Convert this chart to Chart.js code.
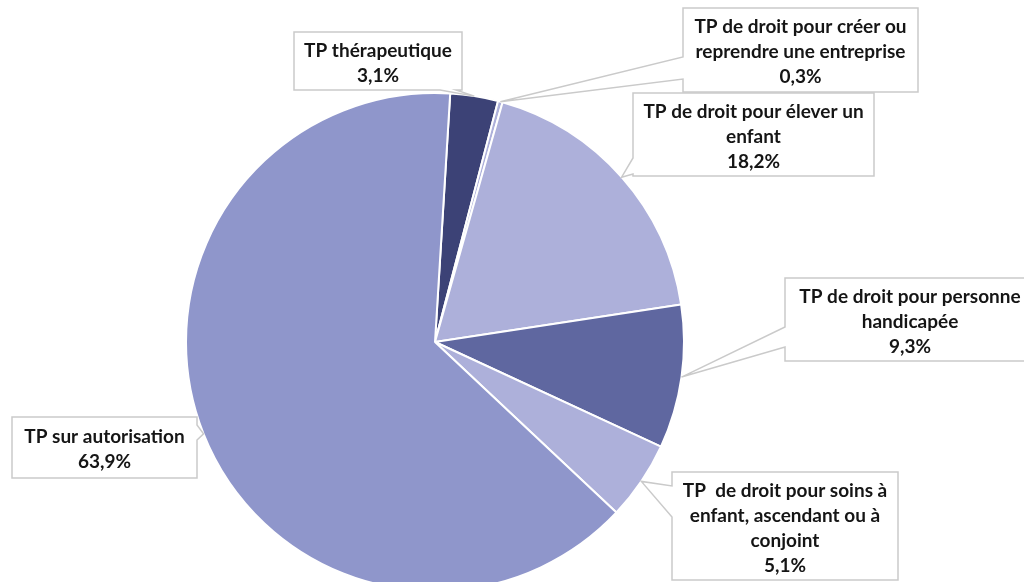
<!DOCTYPE html>
<html>
<head>
<meta charset="utf-8">
<script src="https://cdn.jsdelivr.net/npm/chart.js@4"></script>
<style>
  html, body { margin: 0; padding: 0; background: #fff; overflow: hidden; }
  #wrap { width: 1024px; height: 620px; position: relative; }
</style>
</head>
<body>
<div id="wrap"><canvas id="pieChart"></canvas></div>
<script>
// categories, clockwise from the top
const categories = [
  'TP thérapeutique',
  'TP de droit pour créer ou reprendre une entreprise',
  'TP de droit pour élever un enfant',
  'TP de droit pour personne handicapée',
  'TP  de droit pour soins à enfant, ascendant ou à conjoint',
  'TP sur autorisation',
];
// label text, broken the way the callouts show it
const labelLines = [
  ['TP thérapeutique'],
  ['TP de droit pour créer ou', 'reprendre une entreprise'],
  ['TP de droit pour élever un', 'enfant'],
  ['TP de droit pour personne', 'handicapée'],
  ['TP  de droit pour soins à', 'enfant, ascendant ou à', 'conjoint'],
  ['TP sur autorisation'],
];
const shares = [3.1, 0.3, 18.2, 9.3, 5.1, 63.9];
const sliceColors = ['#3c4276', '#adb0da', '#adb0da', '#5f67a0', '#adb0da', '#8f96cb'];

// callout boxes: x, y, w, h, side of the pointer and its base along that side
const callouts = [
  { x: 294, y: 32, w: 168, h: 58, side: 'bottom', a: 440, b: 456 },
  { x: 683, y: 8, w: 235, h: 84, side: 'left', a: 57, b: 79 },
  { x: 633, y: 93, w: 241, h: 83, side: 'left', a: 158, b: 174 },
  { x: 785, y: 278, w: 250, h: 83, side: 'left', a: 327, b: 347 },
  { x: 672, y: 472, w: 226, h: 108, side: 'left', a: 486, b: 517 },
  { x: 12, y: 417, w: 185, h: 61, side: 'right', a: 425, b: 440 },
];

function formatShare(v) {
  return v.toFixed(1).replace('.', ',') + '%';
}

function calloutPath(ctx, box, tip) {
  const { x, y, w, h, side, a, b } = box;
  const pts = [[x, y]];
  if (side === 'top') pts.push([a, y], tip, [b, y]);
  pts.push([x + w, y]);
  if (side === 'right') pts.push([x + w, a], tip, [x + w, b]);
  pts.push([x + w, y + h]);
  if (side === 'bottom') pts.push([b, y + h], tip, [a, y + h]);
  pts.push([x, y + h]);
  if (side === 'left') pts.push([x, b], tip, [x, a]);
  ctx.beginPath();
  ctx.moveTo(pts[0][0], pts[0][1]);
  for (let i = 1; i < pts.length; i++) ctx.lineTo(pts[i][0], pts[i][1]);
  ctx.closePath();
}

const calloutPlugin = {
  id: 'callouts',
  afterDraw(chart) {
    const ctx = chart.ctx;
    const meta = chart.getDatasetMeta(0);
    ctx.save();
    meta.data.forEach((arc, i) => {
      const box = callouts[i];
      const mid = (arc.startAngle + arc.endAngle) / 2;
      const tip = [arc.x + arc.outerRadius * Math.cos(mid), arc.y + arc.outerRadius * Math.sin(mid)];
      calloutPath(ctx, box, tip);
      ctx.fillStyle = '#ffffff';
      ctx.fill();
      ctx.lineWidth = 1.5;
      ctx.strokeStyle = '#cacaca';
      ctx.stroke();

      const lines = labelLines[i].concat([formatShare(shares[i])]);
      const lh = 25;
      const cx = box.x + box.w / 2;
      const top = box.y + box.h / 2 - (lines.length - 1) * lh / 2 + 2;
      ctx.fillStyle = '#151515';
      ctx.font = 'bold 19px Lato, "Open Sans", sans-serif';
      ctx.textAlign = 'center';
      ctx.textBaseline = 'middle';
      lines.forEach((t, k) => ctx.fillText(t, cx, top + k * lh));
    });
    ctx.restore();
  },
};

new Chart(document.getElementById('pieChart'), {
  type: 'pie',
  data: {
    labels: categories,
    datasets: [{
      data: shares,
      backgroundColor: sliceColors,
      borderColor: '#ffffff',
      borderWidth: 2,
    }],
  },
  options: {
    responsive: true,
    maintainAspectRatio: false,
    animation: false,
    rotation: 3.5,
    layout: { padding: { left: 185, right: 339, top: 92, bottom: 28 } },
    plugins: {
      legend: { display: false },
      tooltip: { enabled: false },
    },
  },
  plugins: [calloutPlugin],
});
</script>
</body>
</html>
